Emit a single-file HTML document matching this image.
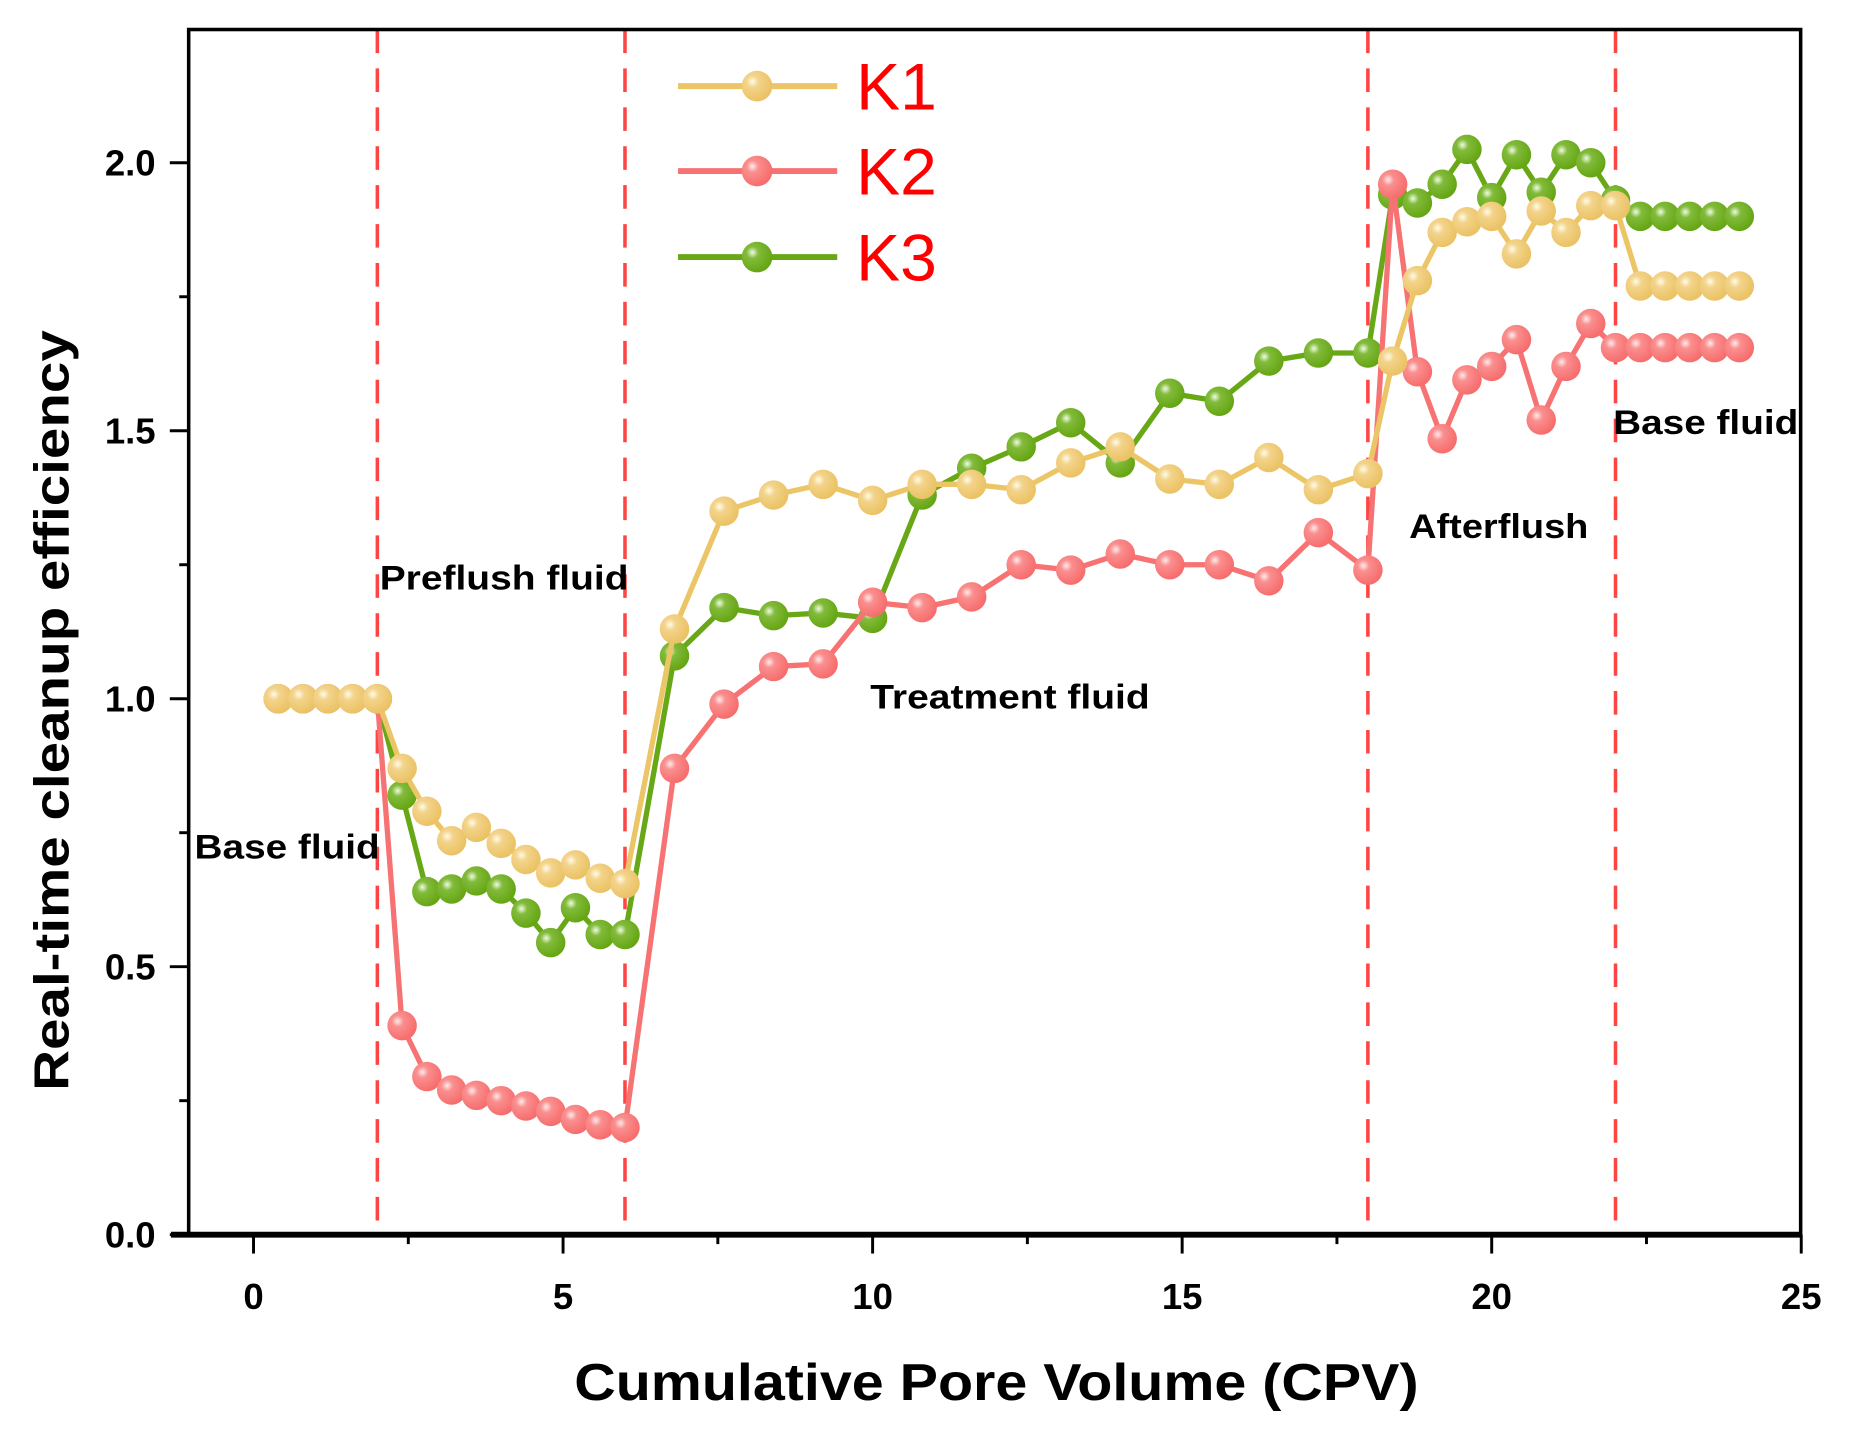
<!DOCTYPE html>
<html><head><meta charset="utf-8"><style>
html,body{margin:0;padding:0;background:#fff;}
svg{display:block;font-family:"Liberation Sans",Arial,sans-serif;}
</style></head><body>
<svg id="chart" width="1849" height="1438" viewBox="0 0 1568 1219.4" xmlns="http://www.w3.org/2000/svg">
<defs>
<radialGradient id="gY" cx="0.35" cy="0.35" r="0.65"><stop offset="0" stop-color="#fffbe8"/><stop offset="0.3" stop-color="#f3d48c"/><stop offset="1" stop-color="#ebc264"/></radialGradient>
<radialGradient id="gR" cx="0.35" cy="0.35" r="0.65"><stop offset="0" stop-color="#ffeaea"/><stop offset="0.3" stop-color="#fa8f8f"/><stop offset="1" stop-color="#f76d6d"/></radialGradient>
<radialGradient id="gG" cx="0.35" cy="0.35" r="0.65"><stop offset="0" stop-color="#eefbe0"/><stop offset="0.3" stop-color="#82bb3c"/><stop offset="1" stop-color="#66a614"/></radialGradient>
</defs>
<g id="grid"></g>
<g id="series"></g>
<g id="axes"></g>
</svg>
<script>
const xs = [0.4,0.8,1.2,1.6,2.0,2.4,2.8,3.2,3.6,4.0,4.4,4.8,5.2,5.6,6.0,6.8,7.6,8.4,9.2,10.0,10.8,11.6,12.4,13.2,14.0,14.8,15.6,16.4,17.2,18.0,18.4,18.8,19.2,19.6,20.0,20.4,20.8,21.2,21.6,22.0,22.4,22.8,23.2,23.6,24.0];
const k1 = [1,1,1,1,1,0.87,0.79,0.735,0.76,0.73,0.70,0.675,0.69,0.665,0.655,1.13,1.35,1.38,1.40,1.37,1.40,1.40,1.39,1.44,1.47,1.41,1.40,1.45,1.39,1.42,1.63,1.78,1.87,1.89,1.90,1.83,1.91,1.87,1.92,1.92,1.77,1.77,1.77,1.77,1.77];
const k2 = [1,1,1,1,1,0.39,0.295,0.27,0.26,0.25,0.24,0.23,0.215,0.205,0.20,0.87,0.99,1.06,1.065,1.18,1.17,1.19,1.25,1.24,1.27,1.25,1.25,1.22,1.31,1.24,1.96,1.61,1.485,1.595,1.62,1.67,1.52,1.62,1.70,1.655,1.655,1.655,1.655,1.655,1.655];
const k3 = [1,1,1,1,1,0.82,0.64,0.645,0.66,0.645,0.60,0.545,0.61,0.56,0.56,1.08,1.17,1.155,1.16,1.15,1.38,1.43,1.47,1.515,1.44,1.57,1.555,1.63,1.645,1.645,1.94,1.925,1.96,2.025,1.935,2.015,1.945,2.015,2.0,1.93,1.90,1.90,1.90,1.90,1.90];
const xTicks = [0,5,10,15,20,25];
const yTicks = [0.0,0.5,1.0,1.5,2.0];
const phaseBounds = [2,6,18,22];

const NS="http://www.w3.org/2000/svg";
const X0=215, XS=52.5, Y0=1047, YS=454.5;
function x(v){return X0+v*XS;}
function y(v){return Y0-v*YS;}
function mk(tag,attrs,parent,text){const e=document.createElementNS(NS,tag);for(const k in attrs)e.setAttribute(k,attrs[k]);if(text!==undefined)e.textContent=text;parent.appendChild(e);return e;}
const grid=document.getElementById('grid'),ser=document.getElementById('series'),ax=document.getElementById('axes');
const L=160,R=1527,T=25;

phaseBounds.forEach(b=>{
  const l=mk('line',{x1:x(b),x2:x(b),y1:T,y2:Y0,stroke:'#f44',"stroke-width":3,"stroke-dasharray":"20,13"},grid);
  
  
});

const series=[{n:'k3',d:k3,c:'#68a716',g:'url(#gG)'},{n:'k2',d:k2,c:'#f77272',g:'url(#gR)'},{n:'k1',d:k1,c:'#ecc566',g:'url(#gY)'}];
series.forEach(s=>{
  const g=mk('g',{},ser);
  
  
  const pts=xs.map((v,i)=>x(v)+','+y(s.d[i])).join(' ');
  const pl=mk('polyline',{points:pts,fill:'none',stroke:s.c,"stroke-width":4.5,"stroke-linejoin":'round'},g);
  
  
  xs.forEach((v,i)=>{
    const c=mk('circle',{cx:x(v),cy:y(s.d[i]),r:12.5,fill:s.g},g);
    
    
  });
});

const fr=mk('rect',{x:L,y:T,width:R-L,height:Y0-T,fill:'none',stroke:'#000',"stroke-width":3},ax);


const bx=mk('line',{x1:145,x2:R,y1:Y0,y2:Y0,stroke:'#000',"stroke-width":5},ax);


for(let v=0;v<=25;v+=2.5){
  const major=v%5===0;
  const t=mk('line',{x1:x(v),x2:x(v),y1:Y0,y2:Y0+(major?16:8),stroke:'#000',"stroke-width":2.5},ax);
  
  
}
xTicks.forEach(v=>{
  const t=mk('text',{x:x(v),y:1110,"text-anchor":'middle',"font-size":31,"font-weight":'bold'},ax,String(v));
  
  
});
for(let v=0;v<=2.0001;v+=0.25){
  const major=Math.abs(v*2-Math.round(v*2))<1e-6;
  const t=mk('line',{x1:L-(major?16:8),x2:L,y1:y(v),y2:y(v),stroke:'#000',"stroke-width":2.5},ax);
  
  
}
yTicks.forEach(v=>{
  const t=mk('text',{x:132,y:y(v)+11,"text-anchor":'end',"font-size":31,"font-weight":'bold'},ax,v.toFixed(1));
  
  
});
const xt=mk('text',{x:487,y:1187,"font-size":44,"font-weight":'bold',textLength:716,lengthAdjust:'spacingAndGlyphs'},ax,'Cumulative Pore Volume (CPV)');


const yt=mk('text',{x:0,y:0,"font-size":42,"font-weight":'bold',textLength:645,lengthAdjust:'spacingAndGlyphs',transform:'translate(58,925) rotate(-90)'},ax,'Real-time cleanup efficiency');



const notes=[['Base fluid',165,728,157],['Preflush fluid',322,500,211],['Treatment fluid',738,601,237],['Afterflush',1195,456,152],['Base fluid',1368,368,157]];
notes.forEach(n=>{
  const t=mk('text',{x:n[1],y:n[2],"font-size":29,"font-weight":'bold',textLength:n[3],lengthAdjust:'spacingAndGlyphs'},ax,n[0]);
  
  
});

const leg=[['K1','#ecc566','url(#gY)',73],['K2','#f77272','url(#gR)',145],['K3','#68a716','url(#gG)',218]];
leg.forEach(l=>{
  const g=mk('g',{},ax);
  
  
  mk('line',{x1:575,x2:710,y1:l[3],y2:l[3],stroke:l[1],"stroke-width":5},g);
  mk('circle',{cx:642,cy:l[3],r:13,fill:l[2]},g);
  mk('text',{x:726,y:l[3]+20,"font-size":56,fill:'#ff0000'},g,l[0]);
});
</script>
</body></html>
